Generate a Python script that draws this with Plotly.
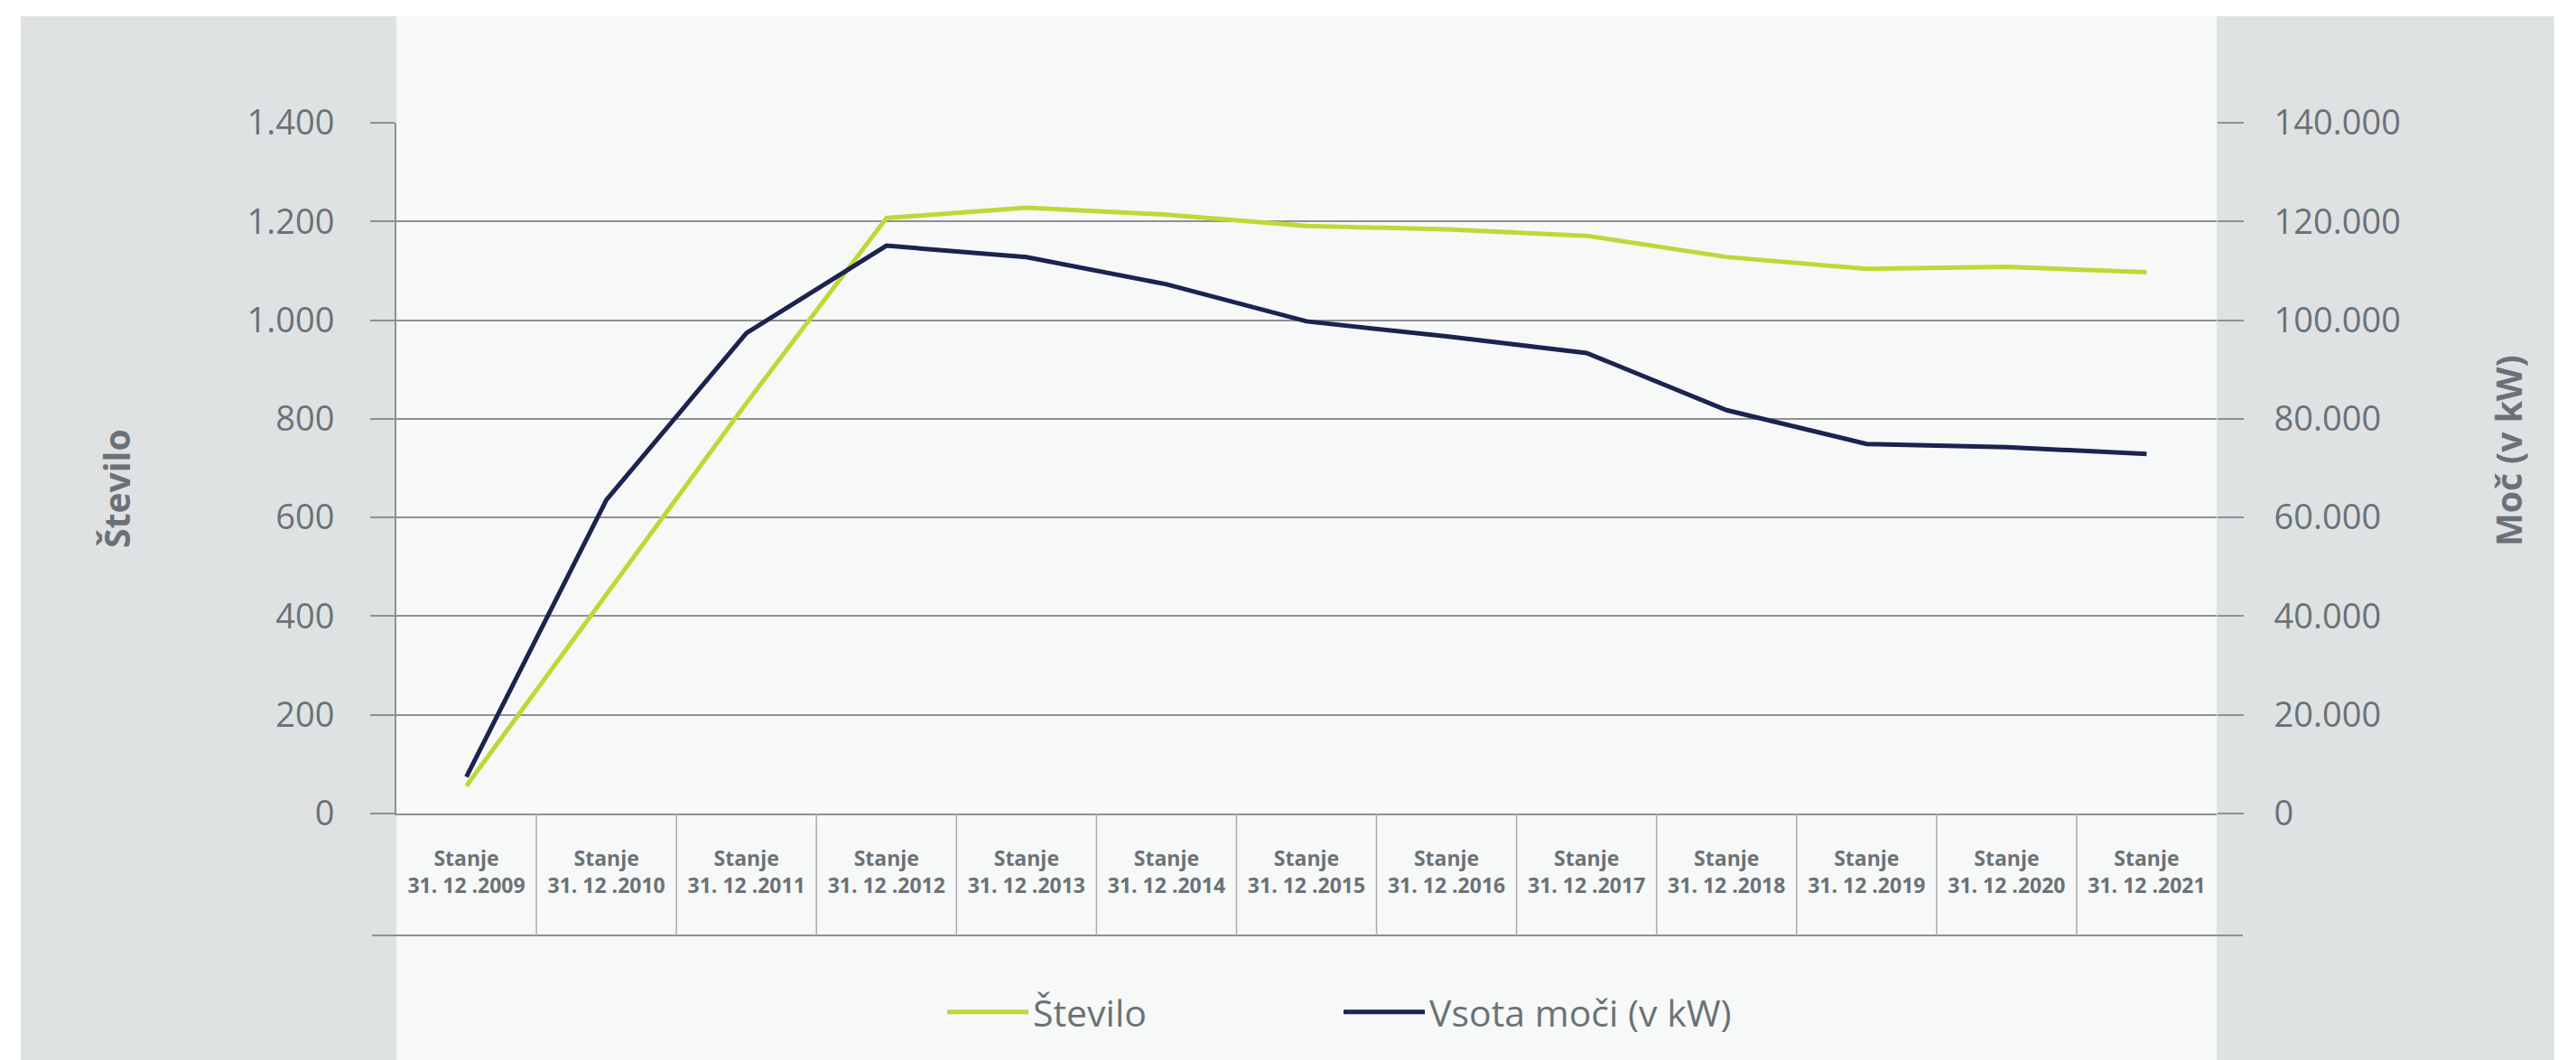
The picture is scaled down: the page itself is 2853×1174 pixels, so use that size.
import plotly.graph_objects as go

# ---- data ----
categories = ["Stanje<br>31. 12 .%d" % y for y in range(2009, 2022)]
stevilo = [56, 445, 832, 1207, 1228, 1214, 1191, 1184, 1171, 1128, 1104, 1108, 1097]
moc_kw = [7420, 63570, 97380, 115090, 112770, 107270, 99760, 96700, 93350, 81760, 74910, 74250, 72900]
series_names = ["Število", "Vsota moči (v kW)"]
axis_titles = ["Število", "Moč (v kW)"]

# ---- style ----
GREEN = "#c1d737"
NAVY = "#1b2351"
GRID = "#8e9093"
DIV = "#a9abae"
TXT = "#6b7277"
GRAY_BG = "#dfe2e3"
LIGHT_BG = "#f7f9f8"
FONT = "Open Sans"

W_PX, H_PX = 2853, 1174
L, R, T, B = 439, 2455, 136, 901
PW, PH = R - L, B - T


def px_x(x):
    return (x - L) / PW


def px_y(y):
    return (B - y) / PH


fig = go.Figure()
fig.add_trace(go.Scatter(x=categories, y=stevilo, name=series_names[0], mode="lines",
                         line=dict(color=GREEN, width=5), yaxis="y"))
fig.add_trace(go.Scatter(x=categories, y=moc_kw, name=series_names[1], mode="lines",
                         line=dict(color=NAVY, width=5), yaxis="y2"))

shapes = [
    dict(type="rect", xref="paper", yref="paper", x0=px_x(23), x1=px_x(2829), y0=px_y(H_PX), y1=px_y(18),
         fillcolor=GRAY_BG, line=dict(width=0), layer="below"),
    dict(type="rect", xref="paper", yref="paper", x0=px_x(L), x1=px_x(R), y0=px_y(H_PX), y1=px_y(18),
         fillcolor=LIGHT_BG, line=dict(width=0), layer="below"),
    dict(type="line", xref="paper", yref="paper", x0=px_x(412), x1=px_x(2484), y0=px_y(1036), y1=px_y(1036),
         line=dict(color=GRID, width=2)),
]
for i in range(len(categories) - 1):
    shapes.append(dict(type="line", xref="x", yref="paper", x0=i + 0.5, x1=i + 0.5, y0=0, y1=px_y(1036),
                       line=dict(color=DIV, width=1.5)))

fig.update_layout(
    width=W_PX, height=H_PX, autosize=False,
    margin=dict(l=L, r=W_PX - R, t=T, b=H_PX - B, pad=0),
    paper_bgcolor="white", plot_bgcolor=LIGHT_BG,
    separators=",.",
    font=dict(family=FONT, color=TXT),
    showlegend=True,
    legend=dict(orientation="h", x=px_x(1044), y=px_y(1121), xanchor="left", yanchor="middle",
                font=dict(size=41, color=TXT, family=FONT), bgcolor="rgba(0,0,0,0)",
                itemwidth=90, entrywidth=334, entrywidthmode="pixels"),
    xaxis=dict(type="category", showgrid=False, showline=True, linecolor=GRID, linewidth=2,
               ticks="outside", ticklen=28, tickcolor="rgba(0,0,0,0)",
               tickfont=dict(family=FONT, size=23, color=TXT, weight="bold"),
               range=[-0.5, len(categories) - 0.5], fixedrange=True),
    yaxis=dict(range=[0, 1400], dtick=200, tickformat=",d", showgrid=True, gridcolor=GRID, gridwidth=2,
               zeroline=False, showline=True, linecolor=GRID, linewidth=2,
               ticks="outside", ticklen=27, tickcolor=GRID, tickwidth=2, ticklabelstandoff=32,
               tickfont=dict(family=FONT, size=38, color=TXT)),
    yaxis2=dict(range=[0, 140000], dtick=20000, tickformat=",d", overlaying="y", side="right",
                showgrid=False, zeroline=False, showline=False,
                ticks="outside", ticklen=29, tickcolor=GRID, tickwidth=2, ticklabelstandoff=26,
                tickfont=dict(family=FONT, size=38, color=TXT)),
    shapes=shapes,
    annotations=[
        dict(text=axis_titles[0], xref="paper", yref="paper", x=px_x(128), y=px_y(541), textangle=-90,
             showarrow=False, xanchor="center", yanchor="middle",
             font=dict(family=FONT, size=39, color=TXT, weight="bold")),
        dict(text=axis_titles[1], xref="paper", yref="paper", x=px_x(2777), y=px_y(499), textangle=-90,
             showarrow=False, xanchor="center", yanchor="middle",
             font=dict(family=FONT, size=39, color=TXT, weight="bold")),
    ],
)

fig.write_html("out.html", config={"displayModeBar": False},
               post_script="document.body.style.margin='0';document.body.style.overflow='hidden';")
